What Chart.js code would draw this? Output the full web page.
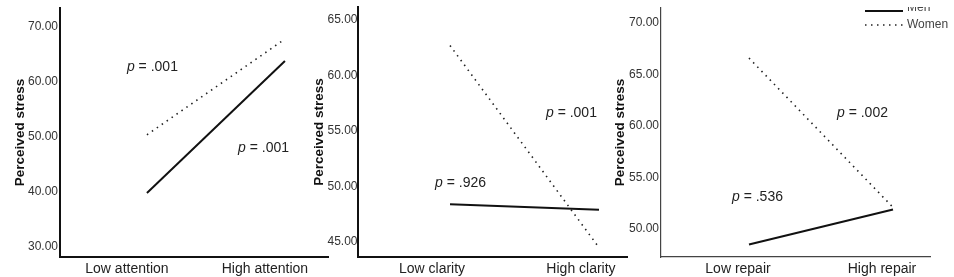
<!DOCTYPE html>
<html><head><meta charset="utf-8">
<script src="https://cdn.jsdelivr.net/npm/chart.js@4"></script>
<style>
html,body{margin:0;padding:0;background:#fff;overflow:hidden}
#wrap{position:relative;width:954px;height:277px;background:#fff}
canvas{position:absolute;top:0}
</style></head><body>
<div id="wrap">
<canvas id="c1" width="330" height="277" style="left:0px;width:330px;height:277px"></canvas>
<canvas id="c2" width="330" height="277" style="left:300px;width:330px;height:277px"></canvas>
<canvas id="c3" width="354" height="277" style="left:600px;width:354px;height:277px"></canvas>
</div>
<script>
// ---- data ----
const seriesNames = ['Men', 'Women'];
const yTitle = 'Perceived stress';

const attentionCategories = ['Low attention', 'High attention'];
const attentionMen = [39.8, 63.8];
const attentionWomen = [50.4, 67.8];
const attentionTicks = [30, 40, 50, 60, 70];
const attentionPValues = ['.001', '.001']; // Women, Men

const clarityCategories = ['Low clarity', 'High clarity'];
const clarityMen = [48.4, 47.9];
const clarityWomen = [62.7, 44.5];
const clarityTicks = [45, 50, 55, 60, 65];
const clarityPValues = ['.001', '.926']; // Women, Men

const repairCategories = ['Low repair', 'High repair'];
const repairMen = [48.5, 51.9];
const repairWomen = [66.6, 52.1];
const repairTicks = [50, 55, 60, 65, 70];
const repairPValues = ['.002', '.536']; // Women, Men

// ---- helpers ----
const FONT = '"Liberation Sans", Arial, Helvetica, sans-serif';
const DOT = [1.5, 4.5];

function pLabels(items) {
  return {
    id: 'pLabels',
    afterDatasetsDraw(chart) {
      const {ctx, scales: {x, y}} = chart;
      ctx.save();
      ctx.fillStyle = '#222';
      ctx.textBaseline = 'middle';
      ctx.textAlign = 'left';
      items.forEach(it => {
        const px = x.getPixelForValue(it.x), py = y.getPixelForValue(it.y);
        ctx.font = 'italic 14px ' + FONT;
        ctx.fillText('p', px, py);
        const w = ctx.measureText('p').width;
        ctx.font = '14px ' + FONT;
        ctx.fillText(' = ' + it.text, px + w, py);
      });
      ctx.restore();
    }
  };
}

const legendPlugin = {
  id: 'sideLegend',
  afterDraw(chart) {
    const ctx = chart.ctx;
    const x0 = chart.width - 89, x1 = chart.width - 51, tx = chart.width - 47;
    chart.data.datasets.forEach((ds, i) => {
      const yy = 11 + i * 14;
      ctx.save();
      ctx.beginPath();
      ctx.strokeStyle = ds.borderColor;
      ctx.lineWidth = ds.borderWidth;
      ctx.setLineDash(ds.borderDash || []);
      ctx.moveTo(x0, yy); ctx.lineTo(x1, yy);
      ctx.stroke();
      ctx.setLineDash([]);
      ctx.beginPath();
      ctx.rect(0, 7, chart.width, chart.height);
      ctx.clip();
      ctx.fillStyle = '#444';
      ctx.font = '12px ' + FONT;
      ctx.textBaseline = 'middle';
      ctx.textAlign = 'left';
      ctx.fillText(ds.label, tx, i === 0 ? yy - 3 : yy);
      ctx.restore();
    });
  }
};

function makeChart(id, cats, men, women, ticks, cfg, plugins) {
  return new Chart(document.getElementById(id), {
    type: 'line',
    data: {
      datasets: [
        {label: seriesNames[0], data: men.map((v, i) => ({x: i, y: v})),
         borderColor: '#111', borderWidth: 2, pointRadius: 0, tension: 0},
        {label: seriesNames[1], data: women.map((v, i) => ({x: i, y: v})),
         borderColor: '#222', borderWidth: 1.6, borderDash: DOT, pointRadius: 0, tension: 0}
      ]
    },
    options: {
      responsive: false,
      animation: false,
      devicePixelRatio: 1,
      layout: {padding: {left: 0, right: cfg.padRight, top: cfg.padTop, bottom: 0}},
      plugins: {legend: {display: false}, tooltip: {enabled: false}},
      scales: {
        x: {
          type: 'linear', min: cfg.xMin, max: cfg.xMax,
          grid: {display: false, drawTicks: false},
          border: {display: true, color: cfg.axisColor, width: cfg.axisWidth},
          afterBuildTicks: s => { s.ticks = cats.map((c, i) => ({value: i})); },
          afterFit: s => { s.height = 20; s.paddingLeft = 0; s.paddingRight = 0; },
          ticks: {
            autoSkip: false, maxRotation: 0, padding: 4, labelOffset: cfg.labelOffset,
            color: '#222', font: {family: FONT, size: 14},
            callback: v => cats[v]
          }
        },
        y: {
          type: 'linear', min: cfg.yMin, max: cfg.yMax,
          grid: {display: false, drawTicks: false},
          border: {display: true, color: cfg.axisColor, width: cfg.axisWidth},
          afterBuildTicks: s => { s.ticks = ticks.map(v => ({value: v})); },
          afterFit: s => { s.width = cfg.yWidth; s.paddingTop = 0; s.paddingBottom = 0; },
          ticks: {
            padding: cfg.tickPad, color: '#333', font: {family: FONT, size: 12},
            callback: v => Number(v).toFixed(2)
          },
          title: {
            display: true, text: yTitle, color: '#111',
            font: {family: FONT, size: 13.5, weight: 'bold'},
            padding: {top: cfg.titlePad, bottom: 0}
          }
        }
      }
    },
    plugins: plugins
  });
}

makeChart('c1', attentionCategories, attentionMen, attentionWomen, attentionTicks,
  {xMin: -0.63, xMax: 1.312, yMin: 28.18, yMax: 73.45, padRight: 2, padTop: 8,
   yWidth: 60, titlePad: 12, tickPad: 2, labelOffset: -20, axisColor: '#111', axisWidth: 2},
  [pLabels([{text: attentionPValues[0], x: -0.145, y: 62.7}, {text: attentionPValues[1], x: 0.66, y: 48.0}])]);

makeChart('c2', clarityCategories, clarityMen, clarityWomen, clarityTicks,
  {xMin: -0.621, xMax: 1.188, yMin: 43.65, yMax: 66.17, padRight: 3, padTop: 7,
   yWidth: 57.5, titlePad: 11, tickPad: 0, labelOffset: -18, axisColor: '#111', axisWidth: 2},
  [pLabels([{text: clarityPValues[0], x: 0.644, y: 56.6}, {text: clarityPValues[1], x: -0.10, y: 50.3}])]);

makeChart('c3', repairCategories, repairMen, repairWomen, repairTicks,
  {xMin: -0.611, xMax: 1.257, yMin: 47.28, yMax: 71.46, padRight: 24, padTop: 8,
   yWidth: 61, titlePad: 12, tickPad: 2, labelOffset: -11, axisColor: '#444', axisWidth: 1.2},
  [pLabels([{text: repairPValues[0], x: 0.611, y: 61.26}, {text: repairPValues[1], x: -0.118, y: 53.1}]), legendPlugin]);
</script>
</body></html>
